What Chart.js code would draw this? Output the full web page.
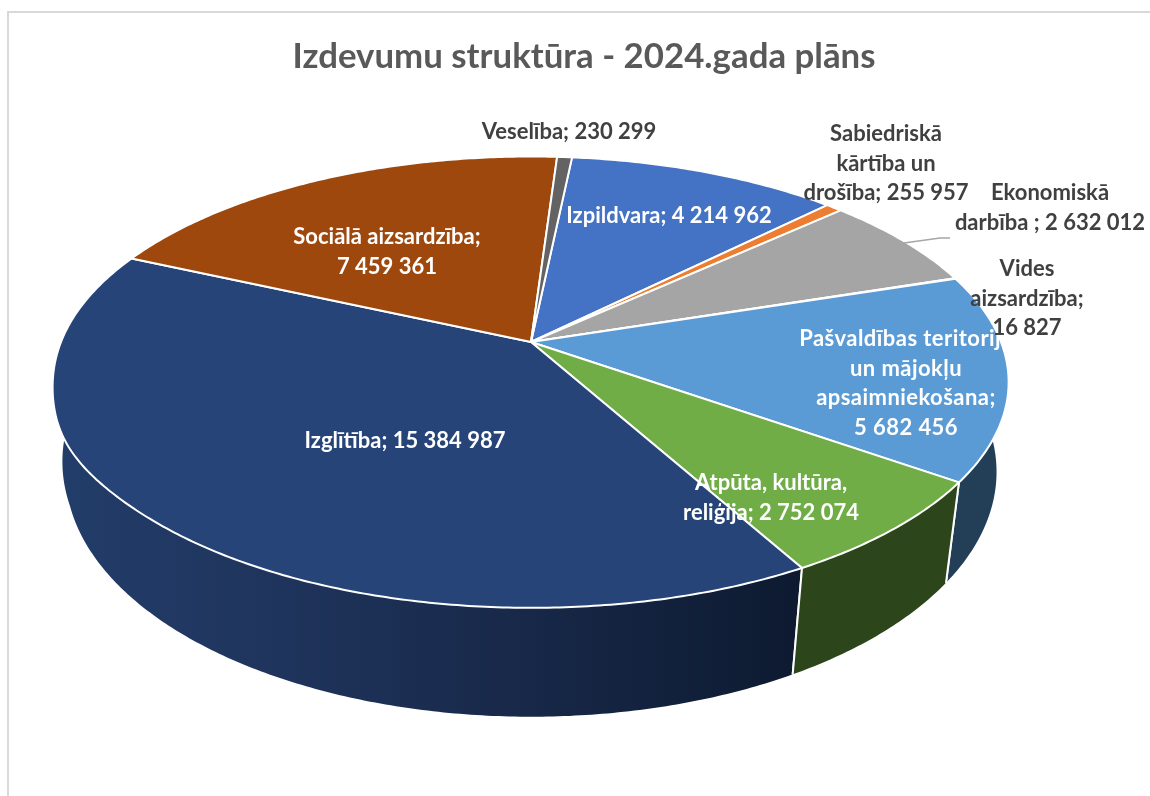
<!DOCTYPE html>
<html>
<head>
<meta charset="utf-8">
<title>Izdevumu struktūra</title>
<script src="https://cdn.jsdelivr.net/npm/chart.js@4/dist/chart.umd.js"></script>
<style>
    html, body { margin: 0; padding: 0; background: #ffffff; }
    canvas { display: block; }
</style>
</head>
<body>
<canvas id="myChart" width="1150" height="796"></canvas>
<script>
//values of the chart, clockwise from the first slice
const categories = ['Izpildvara', 'Sabiedriskā kārtība un drošība', 'Ekonomiskā darbība', 'Vides aizsardzība', 'Pašvaldības teritoriju un mājokļu apsaimniekošana', 'Atpūta, kultūra, reliģija', 'Izglītība', 'Sociālā aizsardzība', 'Veselība'];
const values = [4214962, 255957, 2632012, 16827, 5682456, 2752074, 15384987, 7459361, 230299];
const labelLines = [
    ['Izpildvara; 4 214 962'],
    ['Sabiedriskā', 'kārtība un', 'drošība; 255 957'],
    ['Ekonomiskā', 'darbība ; 2 632 012'],
    ['Vides', 'aizsardzība;', '16 827'],
    ['Pašvaldības teritorija', 'un mājokļu', 'apsaimniekošana;', '5 682 456'],
    ['Atpūta, kultūra,', 'reliģija; 2 752 074'],
    ['Izglītība; 15 384 987'],
    ['Sociālā aizsardzība;', '7 459 361'],
    ['Veselība; 230 299']
];
const chartTitle = 'Izdevumu struktūra - 2024.gada plāns';

//styles, same order as the categories
const sliceColors = ['#4472c4', '#ed7d31', '#a5a5a5', '#ffc000', '#5b9bd5', '#70ad47', '#264478', '#9e480e', '#636363'];
const wallColors = ['#27436f', '#8a4a1c', '#5f5f5f', '#8a6c00', '#233f58', '#2d451b', '#1c3259', '#5c2a08', '#3a3a3a'];
const labelColors = ['#ffffff', '#404040', '#404040', '#404040', '#ffffff', '#ffffff', '#ffffff', '#ffffff', '#404040'];
const labelSpacing = ['0px', '0px', '0px', '0px', '0.45px', '0px', '0px', '0px', '0px'];
//center x and middle y of the first line of every label
const labelPositions = [[669, 216], [886, 134], [1050, 193], [1027, 269], [906, 339], [771, 483], [405, 441], [387, 237], [569, 132]];
const labelFont = 'bold 22px Lato';
const labelLineHeight = 29.5;

//perspective of the top and the bottom disc
const topDisc = { x: 531, y: 342, rx: 470, ry: 218.5, k: 0.178 };
const bottomDisc = { x: 531, y: 431, rx: 459, ry: 238, k: 0.167 };

function projectTop(angle) {
    let u = Math.cos(angle), v = Math.sin(angle);
    let den = 1 - topDisc.k * v;
    //the rim bulges slightly at the lower left
    let bulge = u < 0 ? 3 * Math.exp(-Math.pow((v - 0.42) / 0.2, 2)) : 0;
    return [topDisc.x + topDisc.rx * u / den - bulge, topDisc.y + topDisc.ry * v / den + bulge];
}

function projectBottom(angle) {
    let u = Math.cos(angle), v = Math.sin(angle);
    let den = 1 - bottomDisc.k * v;
    //the left end of the wall stands out a little further than the disc
    let leftShift = u < 0 ? -6 * Math.max(0, 1 - Math.abs(v) / 0.3) : 0;
    return [bottomDisc.x + bottomDisc.rx * u / den + leftShift, bottomDisc.y + bottomDisc.ry * v / den];
}

function arcPoints(start, end, project) {
    let steps = Math.max(2, Math.ceil((end - start) / 0.01));
    let points = [];
    for (let i = 0; i <= steps; i++) {
        points.push(project(start + (end - start) * i / steps));
    }
    return points;
}

function tracePoints(ctx, points) {
    points.forEach(p => ctx.lineTo(p[0], p[1]));
}

//pie controller that paints its arcs as a tilted 3D disc
class Pie3dController extends Chart.PieController {
    static id = 'pie3d';

    draw() {
        const ctx = this.chart.ctx;
        const arcs = this.getMeta().data;
        ctx.save();

        //walls, the ones closest to the viewer last
        let order = arcs.map((arc, i) => i).sort((a, b) => wallDepth(arcs[a]) - wallDepth(arcs[b]));
        order.forEach(i => {
            let arc = arcs[i];
            ctx.beginPath();
            tracePoints(ctx, arcPoints(arc.startAngle, arc.endAngle, projectTop));
            tracePoints(ctx, arcPoints(arc.startAngle, arc.endAngle, projectBottom).reverse());
            ctx.closePath();
            ctx.fillStyle = categories[i] === 'Izglītība' ? frontWallGradient(ctx) : wallColors[i];
            ctx.fill();
            ctx.strokeStyle = '#ffffff';
            ctx.lineWidth = 2;
            [arc.startAngle, arc.endAngle].forEach(a => {
                let p = projectTop(a), q = projectBottom(a);
                ctx.beginPath();
                ctx.moveTo(p[0], p[1]);
                ctx.lineTo(q[0], q[1]);
                ctx.stroke();
            });
        });

        //top faces
        arcs.forEach((arc, i) => {
            ctx.beginPath();
            ctx.moveTo(topDisc.x, topDisc.y);
            tracePoints(ctx, arcPoints(arc.startAngle, arc.endAngle, projectTop));
            ctx.closePath();
            ctx.fillStyle = sliceColors[i];
            ctx.fill();
            ctx.strokeStyle = '#ffffff';
            ctx.lineWidth = 2;
            ctx.lineJoin = 'round';
            ctx.stroke();
        });
        ctx.restore();
    }
}

function wallDepth(arc) {
    let mid = (arc.startAngle + arc.endAngle) / 2;
    return Math.sin(mid);
}

function frontWallGradient(ctx) {
    let gradient = ctx.createLinearGradient(60, 0, 800, 0);
    gradient.addColorStop(0, '#223d69');
    gradient.addColorStop(0.3, '#1f345c');
    gradient.addColorStop(0.6, '#18294a');
    gradient.addColorStop(1, '#0d1a30');
    return gradient;
}

Chart.register(Pie3dController);

//chart frame behind everything
const framePlugin = {
    id: 'frame',
    beforeDraw(chart) {
        const ctx = chart.ctx;
        ctx.save();
        ctx.strokeStyle = '#d9d9d9';
        ctx.lineWidth = 2;
        ctx.beginPath();
        ctx.moveTo(8, 796);
        ctx.lineTo(8, 12);
        ctx.lineTo(1150, 12);
        ctx.stroke();
        ctx.restore();
    }
};

//data labels and the one leader line
const labelPlugin = {
    id: 'pieLabels',
    afterDatasetsDraw(chart) {
        const ctx = chart.ctx;
        ctx.save();
        ctx.strokeStyle = '#a6a6a6';
        ctx.lineWidth = 1.5;
        ctx.beginPath();
        ctx.moveTo(904, 243);
        ctx.lineTo(940, 238);
        ctx.lineTo(950, 238);
        ctx.stroke();

        ctx.font = labelFont;
        ctx.textAlign = 'center';
        ctx.textBaseline = 'middle';
        //white labels first, the dark ones sit on top of them
        ['#ffffff', '#404040'].forEach(color => {
            labelLines.forEach((lines, n) => {
                if (labelColors[n] !== color) return;
                ctx.fillStyle = color;
                ctx.letterSpacing = labelSpacing[n];
                lines.forEach((line, i) => {
                    ctx.fillText(line, labelPositions[n][0], labelPositions[n][1] + i * labelLineHeight);
                });
            });
        });
        ctx.restore();
    }
};

new Chart(document.getElementById('myChart'), {
    type: 'pie3d',
    data: {
        labels: categories,
        datasets: [{
            data: values,
            backgroundColor: sliceColors,
            rotation: 5.9
        }]
    },
    options: {
        responsive: false,
        animation: false,
        events: [],
        layout: { padding: { left: 18 } },
        plugins: {
            legend: { display: false },
            tooltip: { enabled: false },
            title: {
                display: true,
                text: chartTitle,
                color: '#595959',
                font: { family: 'Lato', size: 34.8, weight: 'bold' },
                padding: { top: 36, bottom: 20 }
            }
        }
    },
    plugins: [framePlugin, labelPlugin]
});
</script>
</body>
</html>
